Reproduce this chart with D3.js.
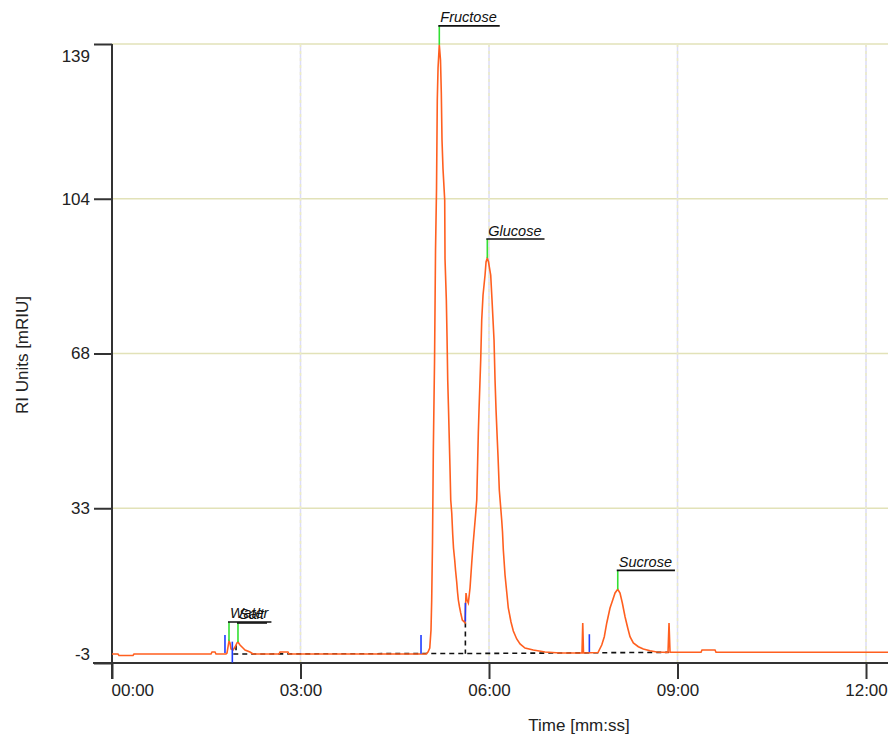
<!DOCTYPE html>
<html>
<head>
<meta charset="utf-8">
<script src="https://cdn.jsdelivr.net/npm/d3@7"></script>
<style>
  html, body { margin: 0; padding: 0; background: #fff; }
  svg { display: block; font-family: "Liberation Sans", Arial, sans-serif; }
</style>
</head>
<body>
<div id="chart"></div>
<script>
// detector trace (time in minutes, RI signal in mRIU)
const timeMin = [0.000, 0.095, 0.111, 0.334, 0.350, 1.576, 1.592, 1.639, 1.655, 1.814, 1.830, 1.862, 1.878, 1.894, 1.926,
  1.958, 1.989, 2.005, 2.037, 2.085, 2.117, 2.196, 2.244, 2.658, 2.674, 2.801, 2.817, 4.902, 4.998, 5.029, 5.057, 5.077,
  5.088, 5.101, 5.114, 5.133, 5.149, 5.165, 5.177, 5.189, 5.209, 5.228, 5.241, 5.252, 5.268, 5.295, 5.300, 5.321, 5.332,
  5.343, 5.356, 5.368, 5.380, 5.391, 5.407, 5.423, 5.435, 5.454, 5.467, 5.486, 5.499, 5.512, 5.531, 5.550, 5.575, 5.618,
  5.634, 5.650, 5.671, 5.698, 5.725, 5.746, 5.766, 5.786, 5.805, 5.820, 5.830, 5.841, 5.868, 5.884, 5.905, 5.937, 5.953,
  5.973, 5.992, 6.027, 6.048, 6.080, 6.096, 6.112, 6.132, 6.144, 6.164, 6.183, 6.202, 6.215, 6.228, 6.239, 6.255, 6.282,
  6.307, 6.350, 6.387, 6.441, 6.494, 6.573, 6.705, 6.892, 7.130, 7.480, 7.492, 7.504, 7.735, 7.794, 7.835, 7.874, 7.926,
  7.969, 8.006, 8.049, 8.085, 8.122, 8.165, 8.208, 8.244, 8.297, 8.377, 8.456, 8.563, 8.669, 8.849, 8.865, 8.881, 9.374,
  9.390, 9.597, 9.613, 12.351];
const signal = [-0.94, -0.94, -1.28, -1.28, -0.94, -0.94, -0.48, -0.48, -0.94, -0.94, -0.71, 2.05, 1.59, 0.21, -0.02,
  0.67, 1.59, 1.82, 1.13, 0.44, -0.02, -0.48, -0.94, -0.94, -0.48, -0.48, -0.94, -0.94, -0.94, -0.48, 0.44, 4.57,
  11.45, 24.76, 45.86, 66.05, 91.74, 105.97, 126.15, 133.49, 138.8, 135.33, 127.76, 116.98, 110.32, 103.21, 89.68, 80.27, 71.78,
  61.92, 55.04, 48.16, 41.27, 34.39, 31.41, 26.36, 23.38, 20.63, 18.33, 15.58, 13.29, 11.45, 9.85, 8.47, 6.86, 6.25,
  13.06, 11.45, 10.76, 14.21, 19.94, 24.07, 27.51, 30.95, 34.39, 43.57, 49.76, 55.04, 66.51, 75.68, 81.42, 86.01, 88.99,
  89.91, 88.99, 86.01, 80.27, 71.10, 61.92, 55.04, 48.16, 44.26, 36.69, 33.25, 29.80, 27.05, 22.92, 20.63, 17.19, 13.29,
  9.62, 6.41, 4.34, 2.51, 1.36, 0.44, -0.02, -0.48, -0.71, -0.71, 6.18, -0.71, -0.59, 1.13, 3.03, 6.18, 9.62,
  11.45, 13.06, 13.91, 13.06, 10.76, 7.62, 5.03, 3.03, 1.59, 0.74, 0.21, -0.18, -0.48, -0.55, 6.18, -0.55, -0.55,
  -0.02, -0.02, -0.55, -0.55];

// identified peaks
const peakNames = ['Water', 'Salt', 'Fructose', 'Glucose', 'Sucrose'];
const peakTimes = [1.862, 2.005, 5.209, 5.973, 8.049];
const peakHeights = [2.05, 1.82, 138.8, 89.9, 13.9];

// peak start / end markers
const markTimes = [1.798, 1.915, 4.918, 5.624, 7.597];
const markTop = [3.4, 1.9, 3.4, 10.8, 3.6];
const markBottom = [-0.7, -2.9, -0.9, 6.5, -0.5];

// integration baseline and drop lines
const baseTimes = [1.93, 6.0, 8.865];
const baseValues = [-0.94, -0.8, -0.55];
const dropTimes = [1.974, 5.624];
const dropTops = [1.1, 6.3];

// axis ticks
const xTicks = [0, 3, 6, 9, 12];
const xTickLabels = ['00:00', '03:00', '06:00', '09:00', '12:00'];
const yTicks = [-3, 32.5, 68, 103.5, 139];
const yTickLabels = ['-3', '33', '68', '104', '139'];

const W = 888, H = 740;
const margin = {top: 44, right: 0, bottom: 77, left: 112};
const width = W - margin.left - margin.right;
const height = H - margin.top - margin.bottom;

const x = d3.scaleLinear().domain([0, 12.35]).range([0, width]);
const y = d3.scaleLinear().domain([-3, 139]).range([height, 0]);

const svg = d3.select('#chart').append('svg')
  .attr('width', W)
  .attr('height', H);

const g = svg.append('g')
  .attr('transform', `translate(${margin.left},${margin.top})`);

// grid
g.append('g').selectAll('line')
  .data(yTicks.slice(1))
  .join('line')
  .attr('x1', 0).attr('x2', width)
  .attr('y1', d => y(d)).attr('y2', d => y(d))
  .attr('stroke', '#e2e2b8')
  .attr('stroke-width', 1.5);

const vgrid = g.append('g');
vgrid.selectAll('line.v')
  .data(xTicks.slice(1))
  .join('line')
  .attr('class', 'v')
  .attr('x1', d => x(d)).attr('x2', d => x(d))
  .attr('y1', 0).attr('y2', height)
  .attr('stroke', '#dcdcf6')
  .attr('stroke-width', 1.5);
vgrid.selectAll('line.d')
  .data(xTicks.slice(1))
  .join('line')
  .attr('class', 'd')
  .attr('x1', d => x(d)).attr('x2', d => x(d))
  .attr('y1', 0).attr('y2', height)
  .attr('stroke', '#ececc4')
  .attr('stroke-width', 1.5)
  .attr('stroke-dasharray', '3,4');

// axes
const xAxis = d3.axisBottom(x)
  .tickValues(xTicks)
  .tickFormat((d, i) => xTickLabels[i])
  .tickSize(16)
  .tickPadding(5);
const xg = g.append('g')
  .attr('transform', `translate(0,${height})`)
  .call(xAxis);
xg.select('.domain').remove();
xg.selectAll('.tick line').attr('stroke', '#333').attr('stroke-width', 2);
xg.selectAll('.tick text')
  .attr('fill', '#222')
  .style('font-size', '17px')
  .style('font-family', '"Liberation Sans", Arial, sans-serif');
xg.select('.tick text').attr('text-anchor', 'start').attr('x', -1);

const yAxis = d3.axisLeft(y)
  .tickValues(yTicks)
  .tickFormat((d, i) => yTickLabels[i])
  .tickSize(18)
  .tickPadding(4);
const yg = g.append('g').call(yAxis);
yg.select('.domain').remove();
yg.selectAll('.tick line').attr('stroke', '#333').attr('stroke-width', 2);
yg.selectAll('.tick text')
  .attr('fill', '#222')
  .style('font-size', '17px')
  .style('font-family', '"Liberation Sans", Arial, sans-serif');
yg.selectAll('.tick text').filter(d => d === 139).attr('dy', '1.05em');
yg.selectAll('.tick text').filter(d => d === -3).attr('dy', '-0.2em');

g.append('line')
  .attr('x1', 0).attr('x2', 0)
  .attr('y1', 0).attr('y2', height + 16)
  .attr('stroke', '#333').attr('stroke-width', 2);
g.append('line')
  .attr('x1', -19).attr('x2', width)
  .attr('y1', height).attr('y2', height)
  .attr('stroke', '#333').attr('stroke-width', 2);

// axis titles
svg.append('text')
  .attr('x', 579).attr('y', 731)
  .attr('text-anchor', 'middle')
  .attr('fill', '#222')
  .style('font-size', '17px')
  .text('Time [mm:ss]');
svg.append('text')
  .attr('transform', 'translate(28,355) rotate(-90)')
  .attr('text-anchor', 'middle')
  .attr('fill', '#222')
  .style('font-size', '17px')
  .text('RI Units [mRIU]');

// integration baseline
const baseLine = d3.line().x(d => x(d[0])).y(d => y(d[1]));
g.append('path')
  .datum(d3.zip(baseTimes, baseValues))
  .attr('d', baseLine)
  .attr('fill', 'none')
  .attr('stroke', '#111')
  .attr('stroke-width', 1.6)
  .attr('stroke-dasharray', '5,4');
g.append('g').selectAll('line')
  .data(d3.zip(dropTimes, dropTops))
  .join('line')
  .attr('x1', d => x(d[0])).attr('x2', d => x(d[0]))
  .attr('y1', d => y(d[1]))
  .attr('y2', d => y(-0.9))
  .attr('stroke', '#111')
  .attr('stroke-width', 1.6)
  .attr('stroke-dasharray', '5,4');

// trace
const traceLine = d3.line().x(d => x(d[0])).y(d => y(d[1]));
g.append('path')
  .datum(d3.zip(timeMin, signal))
  .attr('d', traceLine)
  .attr('fill', 'none')
  .attr('stroke', '#ff5f1f')
  .attr('stroke-width', 1.6)
  .attr('stroke-linejoin', 'miter');

// peak start/end markers
g.append('g').selectAll('line')
  .data(markTimes)
  .join('line')
  .attr('x1', d => x(d)).attr('x2', d => x(d))
  .attr('y1', (d, i) => y(markTop[i]))
  .attr('y2', (d, i) => y(markBottom[i]))
  .attr('stroke', '#1f3cff')
  .attr('stroke-width', 1.6);

// peak labels
const labels = g.append('g').selectAll('g')
  .data(peakNames)
  .join('g')
  .attr('transform', (d, i) => `translate(${x(peakTimes[i])},${y(peakHeights[i])})`);
labels.append('line')
  .attr('x1', 0).attr('x2', 0)
  .attr('y1', 0).attr('y2', -19)
  .attr('stroke', '#33e033')
  .attr('stroke-width', 1.6);
const labelText = labels.append('text')
  .attr('x', 1).attr('y', -22.5)
  .attr('fill', '#111')
  .style('font-size', '14.5px')
  .style('font-style', 'italic')
  .text(d => d);
labels.append('line')
  .attr('x1', -1)
  .attr('x2', function() { return this.parentNode.querySelector('text').getComputedTextLength() + 4; })
  .attr('y1', -19).attr('y2', -19)
  .attr('stroke', '#111')
  .attr('stroke-width', 1.6);
</script>
</body>
</html>
